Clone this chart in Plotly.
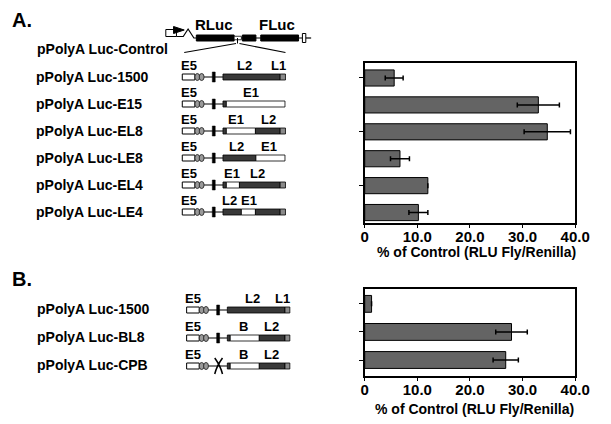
import plotly.graph_objects as go

# ---- bar chart data ----
labels_a = ["pPolyA Luc-1500", "pPolyA Luc-E15", "pPolyA Luc-EL8",
            "pPolyA Luc-LE8", "pPolyA Luc-EL4", "pPolyA Luc-LE4"]
values_a = [5.6, 33.0, 34.7, 6.7, 12.0, 10.2]
errors_a = [1.7, 4.0, 4.4, 1.8, None, 1.8]

labels_b = ["pPolyA Luc-1500", "pPolyA Luc-BL8", "pPolyA Luc-CPB"]
values_b = [1.3, 27.9, 26.8]
errors_b = [None, 3.0, 2.4]

tick_vals = [0, 10, 20, 30, 40]
tick_text = ["0", "10.0", "20.0", "30.0", "40.0"]
x_title = "% of Control (RLU Fly/Renilla)"

# ---- construct maps (segment start, end, region) in map units ----
parts_a = [
    [(226, 285, "L2"), (285, 290.5, "L1")],
    [(226, 229.5, "L2"), (229.5, 290, "E1")],
    [(226, 229.5, "L2"), (229.5, 259.5, "E1"), (259.5, 285, "L2"), (285, 290.5, "L1")],
    [(226, 260, "L2"), (260, 290, "E1")],
    [(226, 229.5, "L2"), (229.5, 243, "E1"), (243, 285, "L2"), (285, 290.5, "L1")],
    [(226, 245, "L2"), (245, 259.5, "E1"), (259.5, 285, "L2"), (285, 290.5, "L1")],
]
tags_a = [
    [("L2", 248), ("L1", 283)],
    [("E1", 255)],
    [("E1", 239), ("L2", 273)],
    [("L2", 240), ("E1", 273)],
    [("E1", 235), ("L2", 262)],
    [("L2", 233), ("E1", 253)],
]
parts_b = [
    [(226, 285.5, "L2"), (285.5, 290.5, "L1")],
    [(226, 229, "L2"), (229, 259, "B"), (259, 285.5, "L2"), (285.5, 290.5, "L1")],
    [(226, 229, "L2"), (229, 259, "B"), (259, 285.5, "L2"), (285.5, 290.5, "L1")],
]
tags_b = [
    [("L2", 252), ("L1", 283)],
    [("B", 243), ("L2", 272)],
    [("B", 243), ("L2", 272)],
]
cut_b = [False, False, True]

fill = {"L2": "#383838", "L1": "#8a8a8a", "E1": "white", "B": "white"}
FONT = "Liberation Sans, Arial, sans-serif"
W, H = 611, 424

fig = go.Figure()

def bars(vals, errs, xa, ya):
    fig.add_trace(go.Bar(
        x=vals, y=list(range(len(vals))), orientation="h", width=0.6,
        marker=dict(color="#646464", line=dict(color="black", width=1)),
        error_x=dict(type="data", array=errs, color="black", thickness=1.5, width=2.5),
        xaxis=xa, yaxis=ya, showlegend=False, hoverinfo="x"))

bars(values_a, errors_a, "x", "y")
bars(values_b, errors_b, "x2", "y2")
# invisible overlay for the schematic (pixel units)
fig.add_trace(go.Scatter(x=[0], y=[0], mode="markers", marker=dict(opacity=0),
                         xaxis="x3", yaxis="y3", showlegend=False, hoverinfo="skip"))

xax = dict(range=[0, 40], tickvals=tick_vals, ticktext=tick_text, showline=True,
           linecolor="black", linewidth=1.5, mirror=True, ticks="outside", ticklen=3,
           tickcolor="black", showgrid=False, zeroline=False, ticklabelstandoff=-4,
           tickfont=dict(family=FONT, size=15, color="black", weight="bold"),
           domain=[372.3 / W, 589.5 / W])
yax = dict(showline=True, linecolor="black", linewidth=1.5, mirror=True, ticks="outside",
           ticklen=4, tickcolor="black", showticklabels=False, showgrid=False, zeroline=False)

shapes, notes = [], []

def rect(x0, x1, yc, h, color, lw=1):
    shapes.append(dict(type="rect", xref="x3", yref="y3", x0=x0, x1=x1, y0=yc - h / 2,
                       y1=yc + h / 2, fillcolor=color, line=dict(color="black", width=lw)))

def line(x0, y0, x1, y1, lw=1.2):
    shapes.append(dict(type="line", xref="x3", yref="y3", x0=x0, y0=y0, x1=x1, y1=y1,
                       line=dict(color="black", width=lw)))

def text(s, x, y, size, anchor="center"):
    notes.append(dict(text=s, x=x, y=y, xref="x3", yref="y3", showarrow=False,
                      xanchor=anchor, yanchor="middle",
                      font=dict(family=FONT, size=size, color="black", weight="bold")))

def construct(yc, off, segs, tags, cut=False):
    line(off + 184, yc, off + 226, yc)
    rect(off + 184, off + 197, yc, 6, "white")
    for cx in (199.5, 204):
        shapes.append(dict(type="circle", xref="x3", yref="y3", x0=off + cx - 2.5,
                           x1=off + cx + 2.5, y0=yc - 3.5, y1=yc + 3.5, fillcolor="#9a9a9a",
                           line=dict(color="#333", width=1)))
    if cut:
        shapes.append(dict(type="path", xref="x3", yref="y3",
                           path=f"M {off+213},{yc-8} Q {off+219},{yc} {off+221},{yc+8} "
                                f"M {off+221},{yc-8} Q {off+215},{yc} {off+213},{yc+8}",
                           line=dict(color="black", width=1.5)))
    else:
        rect(off + 215, off + 218, yc, 10, "black", 0.5)
    for s, e, k in segs:
        rect(off + s, off + e, yc, 6, fill[k], 0.8)
    text("E5", off + 191, yc - 12, 13)
    for t, x in tags:
        text(t, off + x, yc - 12, 13)

# control map
text("A.", 6, 20, 20, "left")
text("B.", 6, 279, 20, "left")
text("pPolyA Luc-Control", 32, 49, 14, "left")
text("RLuc", 217, 24, 15)
text("FLuc", 282, 24, 15)
rect(167, 178, 33, 7, "white")
shapes.append(dict(type="path", xref="x3", yref="y3", path="M 175,26.5 L 175,33.5 L 186,30 Z",
                   fillcolor="black", line=dict(color="black", width=1)))
shapes.append(dict(type="path", xref="x3", yref="y3",
                   path="M 178,36.5 L 185,36.5 L 190,29 L 196,38 L 199,38",
                   line=dict(color="black", width=1.2)))
line(237, 38, 311, 38)
line(311, 38, 317, 38)
rect(198.5, 237.5, 38, 6, "black")
rect(237.5, 245, 38, 3.5, "white", 0.8)
line(241, 38, 241, 43.5, 1)
rect(246, 260, 38, 6, "black")
rect(265, 304, 38, 6, "black")
rect(308, 311.5, 38, 9, "white", 1)
line(239.5, 43.5, 186, 52.5)
line(243, 43.5, 290.5, 52.5)

for i, lab in enumerate(labels_a):
    yc = 77 + 27 * i
    text(lab, 31, yc, 14, "left")
    construct(yc, 0, parts_a[i], tags_a[i])
for i, lab in enumerate(labels_b):
    yc = 310 + 28 * i
    text(lab, 32, yc - 1, 14, "left")
    construct(yc, 4.5, parts_b[i], tags_b[i], cut_b[i])

text(x_title, 488, 252, 14)
text(x_title, 486, 409, 14)

fig.update_layout(
    width=W, height=H, margin=dict(l=0, r=0, t=0, b=0),
    paper_bgcolor="white", plot_bgcolor="rgba(0,0,0,0)",
    xaxis=dict(xax, anchor="y"),
    yaxis=dict(yax, range=[5.40, -0.546], domain=[1 - 223.3 / H, 1 - 63.3 / H], anchor="x"),
    xaxis2=dict(xax, anchor="y2"),
    yaxis2=dict(yax, range=[2.57, -0.53], domain=[1 - 376 / H, 1 - 289 / H], anchor="x2"),
    xaxis3=dict(range=[0, W], domain=[0, 1], visible=False, anchor="y3", fixedrange=True),
    yaxis3=dict(range=[H, 0], domain=[0, 1], visible=False, anchor="x3", fixedrange=True),
    shapes=shapes, annotations=notes,
)

fig.write_html("out.html", config={"displayModeBar": False},
               post_script="document.body.style.margin='0';")
